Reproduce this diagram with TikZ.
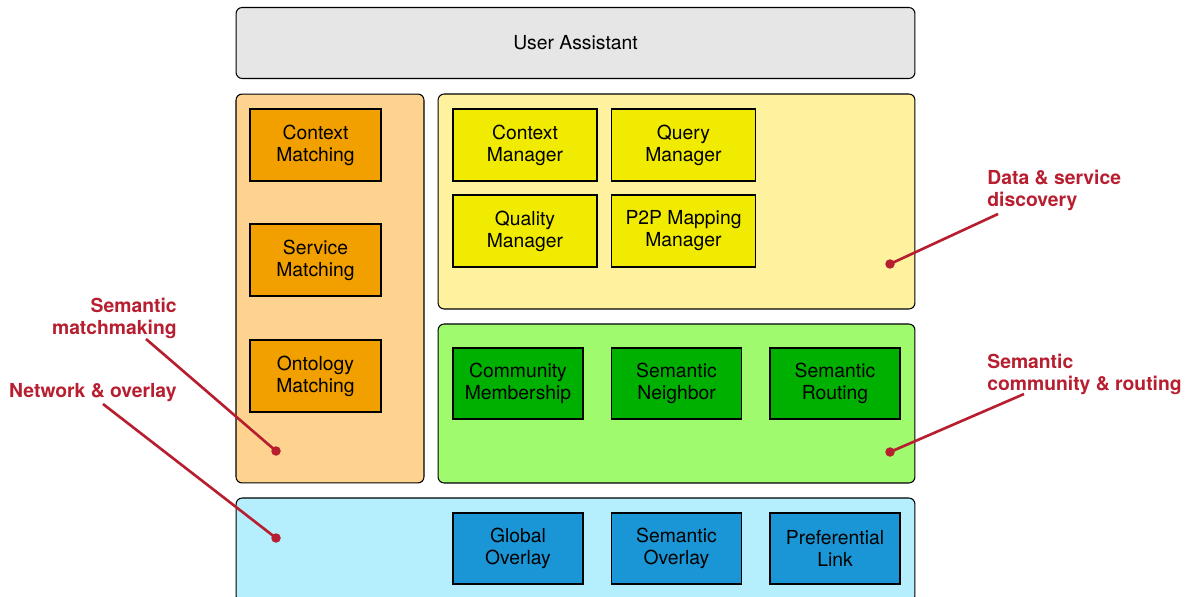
\documentclass[tikz,border=0pt]{standalone}
\usepackage{fontspec}
\setmainfont{TeX Gyre Heros}
\usetikzlibrary{positioning}
\definecolor{panelgray}{RGB}{230,230,230}
\definecolor{panelorange}{RGB}{254,211,143}
\definecolor{panelyellow}{RGB}{255,242,158}
\definecolor{panelgreen}{RGB}{160,250,110}
\definecolor{panelblue}{RGB}{181,238,252}
\definecolor{boxorange}{RGB}{242,160,0}
\definecolor{boxyellow}{RGB}{240,235,0}
\definecolor{boxgreen}{RGB}{0,176,0}
\definecolor{boxblue}{RGB}{26,150,214}
\definecolor{labelred}{RGB}{183,30,48}

\begin{document}
\begin{tikzpicture}[
            x=0.02cm, y=-0.02cm,
            font=\fontsize{11}{12.5}\selectfont,
            panel/.style={draw, rectangle, rounded corners=3.5pt, line width=0.6pt},
            box/.style={draw, rectangle, minimum width=2.62cm, minimum height=1.44cm,
                       align=center, line width=0.7pt, inner sep=0pt},
            callout/.style={font=\fontsize{11}{12.5}\selectfont\bfseries, text=labelred, inner sep=0pt},
            pointer/.style={draw=labelred, line width=1.5pt},
            dot/.style={circle, fill=labelred, inner sep=0pt, minimum size=0.19cm}
        ]
            \useasboundingbox (0,0) rectangle (1192,597);
            \clip (0,0) rectangle (1192,597);

            % layers
            \node[panel, fill=panelgray, minimum width=13.58cm, minimum height=1.42cm] (assistant) at (575.5,43) {User Assistant};
            \node[panel, fill=panelorange, minimum width=3.76cm, minimum height=7.78cm] (matchpanel) at (330,288.5) {};
            \node[panel, fill=panelyellow, minimum width=9.54cm, minimum height=4.3cm] (datapanel) at (676.5,201.5) {};
            \node[panel, fill=panelgreen, minimum width=9.54cm, minimum height=3.18cm] (commpanel) at (676.5,403.5) {};
            \node[panel, fill=panelblue, minimum width=13.58cm, minimum height=2.08cm] (netpanel) at (575.5,550) {};

            % semantic matchmaking
            \node[box, fill=boxorange] (ctxmatch) at (315.5,145) {Context\\Matching};
            \node[box, fill=boxorange] (srvmatch) at (315.5,260) {Service\\Matching};
            \node[box, fill=boxorange] (ontmatch) at (315.5,376) {Ontology\\Matching};

            % data & service discovery
            \node[box, fill=boxyellow, minimum width=2.88cm] (ctxmgr) at (525,145) {Context\\Manager};
            \node[box, fill=boxyellow, minimum width=2.88cm] (querymgr) at (683.5,145) {Query\\Manager};
            \node[box, fill=boxyellow, minimum width=2.88cm] (qualmgr) at (525,231) {Quality\\Manager};
            \node[box, fill=boxyellow, minimum width=2.88cm] (mapmgr) at (683.5,231) {P2P Mapping\\Manager};

            % semantic community & routing
            \node[box, fill=boxgreen, minimum width=2.6cm, minimum height=1.42cm] (membership) at (518,383.5) {Community\\Membership};
            \node[box, fill=boxgreen, minimum width=2.6cm, minimum height=1.42cm] (neighbor) at (676.5,383.5) {Semantic\\Neighbor};
            \node[box, fill=boxgreen, minimum width=2.6cm, minimum height=1.42cm] (routing) at (835,383.5) {Semantic\\Routing};

            % network & overlay
            \node[box, fill=boxblue, minimum width=2.6cm, minimum height=1.42cm] (globalov) at (518,548.5) {Global\\Overlay};
            \node[box, fill=boxblue, minimum width=2.6cm, minimum height=1.42cm] (semov) at (676.5,548.5) {Semantic\\Overlay};
            \node[box, fill=boxblue, minimum width=2.6cm, minimum height=1.42cm] (preflink) at (835,548.5) {Preferential\\Link};

            % callouts
            \node[callout, anchor=north east, align=right] (lblmatch) at (177,298) {Semantic\\matchmaking};
            \node[callout, anchor=north east] (lblnet) at (177,383) {Network \& overlay};
            \node[callout, anchor=north west, align=left] (lbldata) at (987,170) {Data \& service\\discovery};
            \node[callout, anchor=north west, align=left] (lblcomm) at (987,354) {Semantic\\community \& routing};

            \node[dot] (dotmatch) at (276,451) {};
            \node[dot] (dotnet) at (276,538) {};
            \node[dot] (dotdata) at (890,264) {};
            \node[dot] (dotcomm) at (890,452) {};

            \coordinate (tipmatch) at (146,339);
            \coordinate (tipnet) at (103,404);
            \coordinate (tipdata) at (998,214);
            \coordinate (tipcomm) at (1024,394);

            \draw[pointer] (tipmatch) -- (dotmatch.center);
            \draw[pointer] (tipnet) -- (dotnet.center);
            \draw[pointer] (tipdata) -- (dotdata.center);
            \draw[pointer] (tipcomm) -- (dotcomm.center);
        \end{tikzpicture}
\end{document}
